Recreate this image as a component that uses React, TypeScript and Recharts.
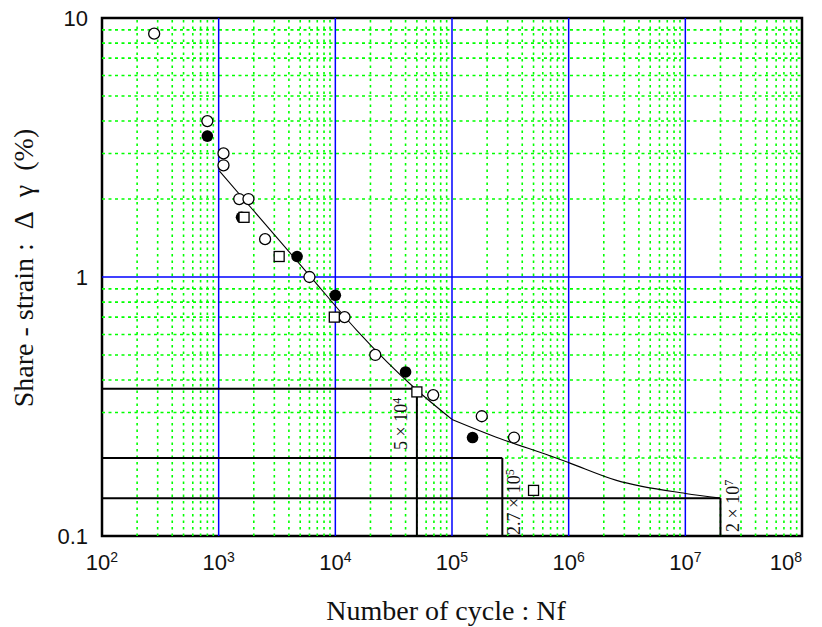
import React from "react";
import {
  ComposedChart,
  XAxis,
  YAxis,
  Scatter,
  Line,
  ReferenceLine,
  ReferenceArea,
} from "recharts";

// open circles
const openX = [280, 800, 1100, 1100, 1500, 1800, 2500, 6000, 12000, 22000, 69000, 180000, 340000];
const openY = [8.7, 4.0, 3.0, 2.7, 2.0, 2.0, 1.4, 1.0, 0.7, 0.5, 0.35, 0.29, 0.24];

// filled circles
const filledX = [800, 1570, 4700, 10000, 40000, 150000];
const filledY = [3.5, 1.7, 1.2, 0.85, 0.43, 0.24];

// open squares
const squareX = [1650, 3300, 9800, 50000, 500000];
const squareY = [1.7, 1.2, 0.7, 0.36, 0.15];

// fitted curve, steep part then the bend after 1e5 cycles
const fitHeadX = [1010, 5940, 15200, 48000, 100000];
const fitHeadY = [2.57, 1.02, 0.624, 0.372, 0.282];
const fitTailX = [100000, 257000, 690000, 1000000, 2570000, 10000000, 20000000];
const fitTailY = [0.282, 0.238, 0.204, 0.192, 0.164, 0.146, 0.14];

// life guides: cycle count and strain level
const guideX = [5e4, 2.7e5, 2e7];
const guideY = [0.37, 0.2, 0.14];
const guideMantissa = ["5 × 10", "2.7 × 10", "2 × 10"];
const guideExp = ["4", "5", "7"];

// axes
const xDecades = [1e2, 1e3, 1e4, 1e5, 1e6, 1e7, 1e8];
const xExponents = ["2", "3", "4", "5", "6", "7", "8"];
const yDecades = [0.1, 1, 10];
const yTickLabels = ["0.1", "1", "10"];
const minorSteps = [2, 3, 4, 5, 6, 7, 8, 9];

const xMinor = xDecades.slice(0, -1).flatMap((d) => minorSteps.map((m) => m * d));
const yMinor = yDecades.slice(0, -1).flatMap((d) => minorSteps.map((m) => m * d));
const xMajorInner = xDecades.slice(1, -1);
const yMajorInner = yDecades.slice(1, -1);

const pts = (xs: number[], ys: number[]) => xs.map((x, i) => ({ x, y: ys[i] }));

const SANS = '"Liberation Sans", Arial, sans-serif';
const SERIF = '"Liberation Serif", "Times New Roman", serif';
const GREEN = "#00ff00";
const BLUE = "#0000ff";

// where each guide label sits relative to its vertical line
const guideLabelPos = [
  { dx: -10, from: "top", dy: 9 },
  { dx: 18, from: "bottom", dy: -1 },
  { dx: 19, from: "bottom", dy: -4 },
];

function XTick({ x, y, payload }: any) {
  const i = xDecades.indexOf(payload.value);
  return (
    <text x={x} y={y + 34} textAnchor="middle" fontFamily={SANS} fontSize={22} fill="#111">
      <tspan>10</tspan>
      <tspan dy={-8} fontSize={14}>{xExponents[i]}</tspan>
    </text>
  );
}

function YTick({ x, y, payload }: any) {
  const i = yDecades.indexOf(payload.value);
  return (
    <text x={x - 14} y={y} dy="0.35em" textAnchor="end" fontFamily={SANS} fontSize={22} fill="#111">
      {yTickLabels[i]}
    </text>
  );
}

function GuideLabel({ viewBox, index }: any) {
  const pos = guideLabelPos[index];
  const bx = viewBox.x + pos.dx;
  const by = pos.from === "top" ? viewBox.y + pos.dy : viewBox.y + viewBox.height + pos.dy;
  return (
    <text
      x={bx}
      y={by}
      transform={`rotate(-90 ${bx} ${by})`}
      textAnchor={pos.from === "top" ? "end" : "start"}
      fontFamily={SERIF}
      fontSize={18}
      fill="#111"
    >
      <tspan>{guideMantissa[index]}</tspan>
      <tspan dy={-6} fontSize={12}>{guideExp[index]}</tspan>
    </text>
  );
}

const openCircle = (p: any) => (
  <circle cx={p.cx} cy={p.cy} r={5.5} fill="#fff" stroke="#000" strokeWidth={1.3} />
);
const filledCircle = (p: any) => <circle cx={p.cx} cy={p.cy} r={5.8} fill="#000" />;
const openSquare = (p: any) => (
  <rect x={p.cx - 5} y={p.cy - 5} width={10} height={10} fill="#fff" stroke="#000" strokeWidth={1.3} />
);

export default function App() {
  return (
    <div style={{ position: "absolute", left: 0, top: 0, width: 822, height: 627, background: "#fff" }}>
      <ComposedChart width={822} height={627} margin={{ top: 18, right: 20, bottom: 0, left: 0 }}>
        <XAxis
          type="number"
          dataKey="x"
          scale="log"
          domain={[1e2, 1e8]}
          ticks={xDecades}
          allowDataOverflow
          axisLine={false}
          tickLine={false}
          tickSize={0}
          tickMargin={0}
          height={91}
          tick={<XTick />}
        />
        <YAxis
          type="number"
          dataKey="y"
          scale="log"
          domain={[0.1, 10]}
          ticks={yDecades}
          allowDataOverflow
          axisLine={false}
          tickLine={false}
          tickSize={0}
          tickMargin={0}
          width={102}
          tick={<YTick />}
        />

        {/* minor grid, dotted green */}
        {xMinor.map((v) => (
          <ReferenceLine key={`gx${v}`} x={v} stroke={GREEN} strokeWidth={1.6} strokeDasharray="2.5 4" />
        ))}
        {yMinor.map((v) => (
          <ReferenceLine key={`gy${v}`} y={v} stroke={GREEN} strokeWidth={1.6} strokeDasharray="3 3.5" />
        ))}
        {/* decade grid, solid blue */}
        {xMajorInner.map((v) => (
          <ReferenceLine key={`bx${v}`} x={v} stroke={BLUE} strokeWidth={1.5} />
        ))}
        {yMajorInner.map((v) => (
          <ReferenceLine key={`by${v}`} y={v} stroke={BLUE} strokeWidth={1.5} />
        ))}

        {guideX.map((gx, i) => (
          <ReferenceLine
            key={`h${i}`}
            segment={[{ x: 1e2, y: guideY[i] }, { x: gx, y: guideY[i] }]}
            stroke="#000"
            strokeWidth={2}
            ifOverflow="visible"
          />
        ))}
        {guideX.map((gx, i) => (
          <ReferenceLine
            key={`v${i}`}
            segment={[{ x: gx, y: 0.1 }, { x: gx, y: guideY[i] }]}
            stroke="#000"
            strokeWidth={2}
            ifOverflow="visible"
            label={(props: any) => <GuideLabel {...props} index={i} />}
          />
        ))}

        <Line
          data={pts(fitHeadX, fitHeadY)}
          dataKey="y"
          type="monotone"
          stroke="#000"
          strokeWidth={1.1}
          dot={false}
          isAnimationActive={false}
        />
        <Line
          data={pts(fitTailX, fitTailY)}
          dataKey="y"
          type="monotone"
          stroke="#000"
          strokeWidth={1.1}
          dot={false}
          isAnimationActive={false}
        />

        <Scatter data={pts(openX, openY)} shape={openCircle} isAnimationActive={false} />
        <Scatter data={pts(filledX, filledY)} shape={filledCircle} isAnimationActive={false} />
        <Scatter data={pts(squareX, squareY)} shape={openSquare} isAnimationActive={false} />

        <ReferenceArea
          x1={1e2}
          x2={1e8}
          y1={0.1}
          y2={10}
          fill="none"
          stroke="#000"
          strokeWidth={2.5}
          ifOverflow="visible"
        />
      </ComposedChart>

      <div
        style={{
          position: "absolute",
          left: 24,
          top: 268,
          transform: "translate(-50%, -50%) rotate(-90deg)",
          whiteSpace: "nowrap",
          fontFamily: SERIF,
          fontSize: 28,
          lineHeight: 1,
          color: "#111",
        }}
      >
        Share - strain :{"\u2002"}Δ{"\u2002"}γ{"\u2002"}(%)
      </div>
      <div
        style={{
          position: "absolute",
          left: 446,
          top: 611,
          transform: "translate(-50%, -50%)",
          whiteSpace: "nowrap",
          fontFamily: SERIF,
          fontSize: 28,
          lineHeight: 1,
          color: "#111",
        }}
      >
        Number of cycle : Nf
      </div>
    </div>
  );
}
